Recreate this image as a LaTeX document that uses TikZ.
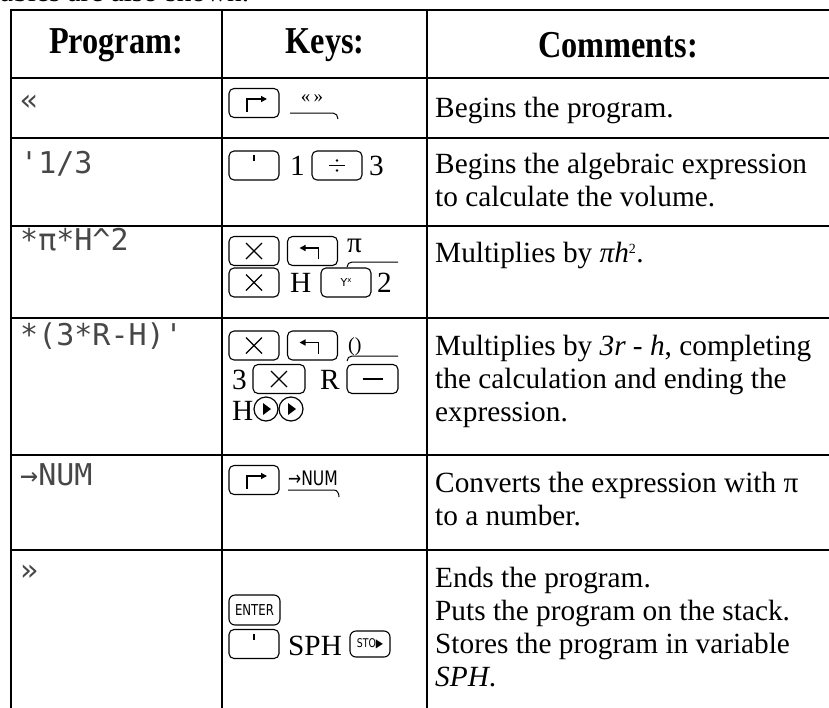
\documentclass[tikz,border=0pt]{standalone}
\usepackage{fontspec}
\setmainfont{Liberation Serif}
\newfontfamily\dotfont{DejaVu Sans Mono}
\newfontfamily\keyfont{DejaVu Sans}
\newfontfamily\condfont[FakeStretch=0.78]{DejaVu Sans}
\newfontfamily\hdrfont[FakeStretch=0.85]{Liberation Serif}
\usetikzlibrary{arrows.meta}
\newcommand\fl{\rule{0pt}{22pt}}
\begin{document}
\begin{tikzpicture}[x=1pt,y=-1pt,
  font=\fontsize{29.3}{33}\selectfont,
  tbl/.style={line width=2.6pt},
  keybox/.style={draw, line width=1.1pt, rounded corners=5pt, minimum width=50pt, minimum height=29pt, inner sep=0pt},
  gl/.style={line width=1.3pt},
  uline/.style={line width=1pt},
  comment/.style={anchor=north west, inner sep=0pt, align=left},
  prog/.style={anchor=base west, inner sep=0pt, font=\dotfont\fontsize{30}{30}\selectfont, text=black!72},
  hdr/.style={font=\hdrfont\bfseries\fontsize{38}{38}\selectfont, inner sep=0pt},
  plain/.style={anchor=base west, inner sep=0pt},
  tipr/.style={-{Triangle[length=6pt,width=6pt]}}
]
\useasboundingbox (0,0) rectangle (829,707);
% cut-off text line above the table
\node[plain] (top) at (0,1.5) {ables are also shown.};
% table
\draw[tbl] (11,712) -- (11,10) -- (835,10);
\foreach \yy in {78,138,226,318,455,550} \draw[tbl] (11,\yy) -- (835,\yy);
\foreach \xx in {222,427} \draw[tbl] (\xx,10) -- (\xx,712);
% header
\node[hdr] (h1) at (116,45) {Program:};
\node[hdr] (h2) at (325,45) {Keys:};
\node[hdr] (h3) at (618,45) {Comments:};
% program column
\node[prog] (p1) at (20,110) {«};
\node[prog] (p2) at (20,173) {\char"27 1/3};
\node[prog] (p3) at (20,250) {*π*H\char"5E 2};
\node[prog] (p4) at (20,345) {*(3*R-H)\char"27};
\node[prog] (p5) at (20,485) {→NUM};
\node[prog] (p6) at (20,580) {»};
% comments column
\node[comment] (c1) at (435,95) {\fl Begins the program.};
\node[comment] (c2) at (435,151) {\fl Begins the algebraic expression\\to calculate the volume.};
\node[comment] (c3) at (435,240) {\fl Multiplies by \textit{πh}\textsuperscript{\fontsize{14}{14}\selectfont 2}.};
\node[comment] (c4) at (435,333) {\fl Multiplies by \textit{3r - h}, completing\\the calculation and ending the\\expression.};
\node[comment] (c5) at (435,470) {\fl Converts the expression with π\\to a number.};
\node[comment] (c6) at (435,565) {\fl Ends the program.\\Puts the program on the stack.\\Stores the program in variable\\\textit{SPH}.};
% ---- keys column
% row 1
\node[keybox] (k1) at (254,103) {};
\begin{scope}[shift={(k1.center)}]
  \draw[gl,tipr] (-7,9) -- (-7,-4) -- (13,-4);
\end{scope}
\node[inner sep=0pt, font=\fontsize{19}{19}\selectfont] (l1) at (312,99) {«\,»};
\coordinate (u1a) at (290,113);
\coordinate (u1b) at (338,119);
\draw[uline] (u1a) -- (333,113) to[out=0,in=90] (u1b);
% row 2
\node[keybox] (k2a) at (254,165.5) {};
\begin{scope}[shift={(k2a.center)}]
  \draw[line width=2.2pt] (0,-11) -- (0,-5);
\end{scope}
\node[plain] (t2a) at (290,175) {1};
\node[keybox] (k2b) at (337,165.5) {};
\begin{scope}[shift={(k2b.center)}]
  \draw[gl] (-8,0) -- (8,0);
  \fill (0,-5) circle (1.4) (0,5) circle (1.4);
\end{scope}
\node[plain] (t2b) at (369,175) {3};
% row 3
\node[keybox] (k3a) at (254,251) {};
\begin{scope}[shift={(k3a.center)}]
  \draw[gl] (-8,-8) -- (8,8) (-8,8) -- (8,-8);
\end{scope}
\node[keybox] (k3b) at (312.5,251) {};
\begin{scope}[shift={(k3b.center)}]
  \draw[gl,tipr] (6,8) -- (6,-3) -- (-13,-3);
\end{scope}
\node[plain] (t3a) at (347,252) {π};
\coordinate (u3a) at (347,267);
\coordinate (u3b) at (398,262);
\draw[uline] (u3a) to[out=90,in=180] (352,262) -- (u3b);
\node[keybox] (k3c) at (254,282.5) {};
\begin{scope}[shift={(k3c.center)}]
  \draw[gl] (-8,-8) -- (8,8) (-8,8) -- (8,-8);
\end{scope}
\node[plain] (t3b) at (290,292) {H};
\node[keybox] (k3d) at (346,282.5) {};
\node[inner sep=0pt, font=\keyfont\fontsize{11}{11}\selectfont] (y3) at (k3d.center) {Y\raisebox{4pt}{\fontsize{7}{7}\selectfont x}};
\node[plain] (t3c) at (377,292) {2};
% row 4
\node[keybox] (k4a) at (254,345.5) {};
\begin{scope}[shift={(k4a.center)}]
  \draw[gl] (-8,-8) -- (8,8) (-8,8) -- (8,-8);
\end{scope}
\node[keybox] (k4b) at (312.5,345.5) {};
\begin{scope}[shift={(k4b.center)}]
  \draw[gl,tipr] (6,8) -- (6,-3) -- (-13,-3);
\end{scope}
\node[plain, font=\fontsize{20}{20}\selectfont] (t4a) at (348,351) {()};
\coordinate (u4a) at (347,361);
\coordinate (u4b) at (398,356);
\draw[uline] (u4a) to[out=90,in=180] (352,356) -- (u4b);
\node[plain] (t4b) at (232,389) {3};
\node[keybox, minimum width=52pt] (k4c) at (279,379) {};
\begin{scope}[shift={(k4c.center)}]
  \draw[gl] (-8,-8) -- (8,8) (-8,8) -- (8,-8);
\end{scope}
\node[plain] (t4c) at (320,389) {R};
\node[keybox, minimum width=51pt] (k4d) at (372.5,379) {};
\begin{scope}[shift={(k4d.center)}]
  \draw[line width=1.6pt] (-10,0) -- (10,0);
\end{scope}
\node[plain] (t4d) at (232,420) {H};
\node[draw, circle, line width=1.2pt, minimum size=24pt, inner sep=0pt] (b1) at (266,409) {};
\node[draw, circle, line width=1.2pt, minimum size=24pt, inner sep=0pt] (b2) at (291,409) {};
\fill ([shift={(-3,-6)}]b1.center) -- ([shift={(5,0)}]b1.center) -- ([shift={(-3,6)}]b1.center) -- cycle;
\fill ([shift={(-3,-6)}]b2.center) -- ([shift={(5,0)}]b2.center) -- ([shift={(-3,6)}]b2.center) -- cycle;
% row 5
\node[keybox] (k5) at (254,480) {};
\begin{scope}[shift={(k5.center)}]
  \draw[gl,tipr] (-7,9) -- (-7,-4) -- (13,-4);
\end{scope}
\node[plain, font=\condfont\fontsize{20}{20}\selectfont] (l5) at (288,485) {→NUM};
\coordinate (u5a) at (288,490);
\coordinate (u5b) at (339,497);
\draw[uline] (u5a) -- (334,490) to[out=0,in=90] (u5b);
% row 6
\node[keybox, minimum width=51pt, minimum height=30pt, rounded corners=6pt, font=\condfont\fontsize{15}{15}\selectfont] (k6a) at (254.5,610) {ENTER};
\node[keybox] (k6b) at (254,644) {};
\begin{scope}[shift={(k6b.center)}]
  \draw[line width=2.2pt] (0,-10) -- (0,-4);
\end{scope}
\node[plain] (t6) at (288,655) {SPH};
\node[keybox, minimum width=40pt, minimum height=26pt, rounded corners=6pt, font=\condfont\fontsize{12}{12}\selectfont] (k6c) at (370,644) {STO▶};
\end{tikzpicture}
\end{document}
